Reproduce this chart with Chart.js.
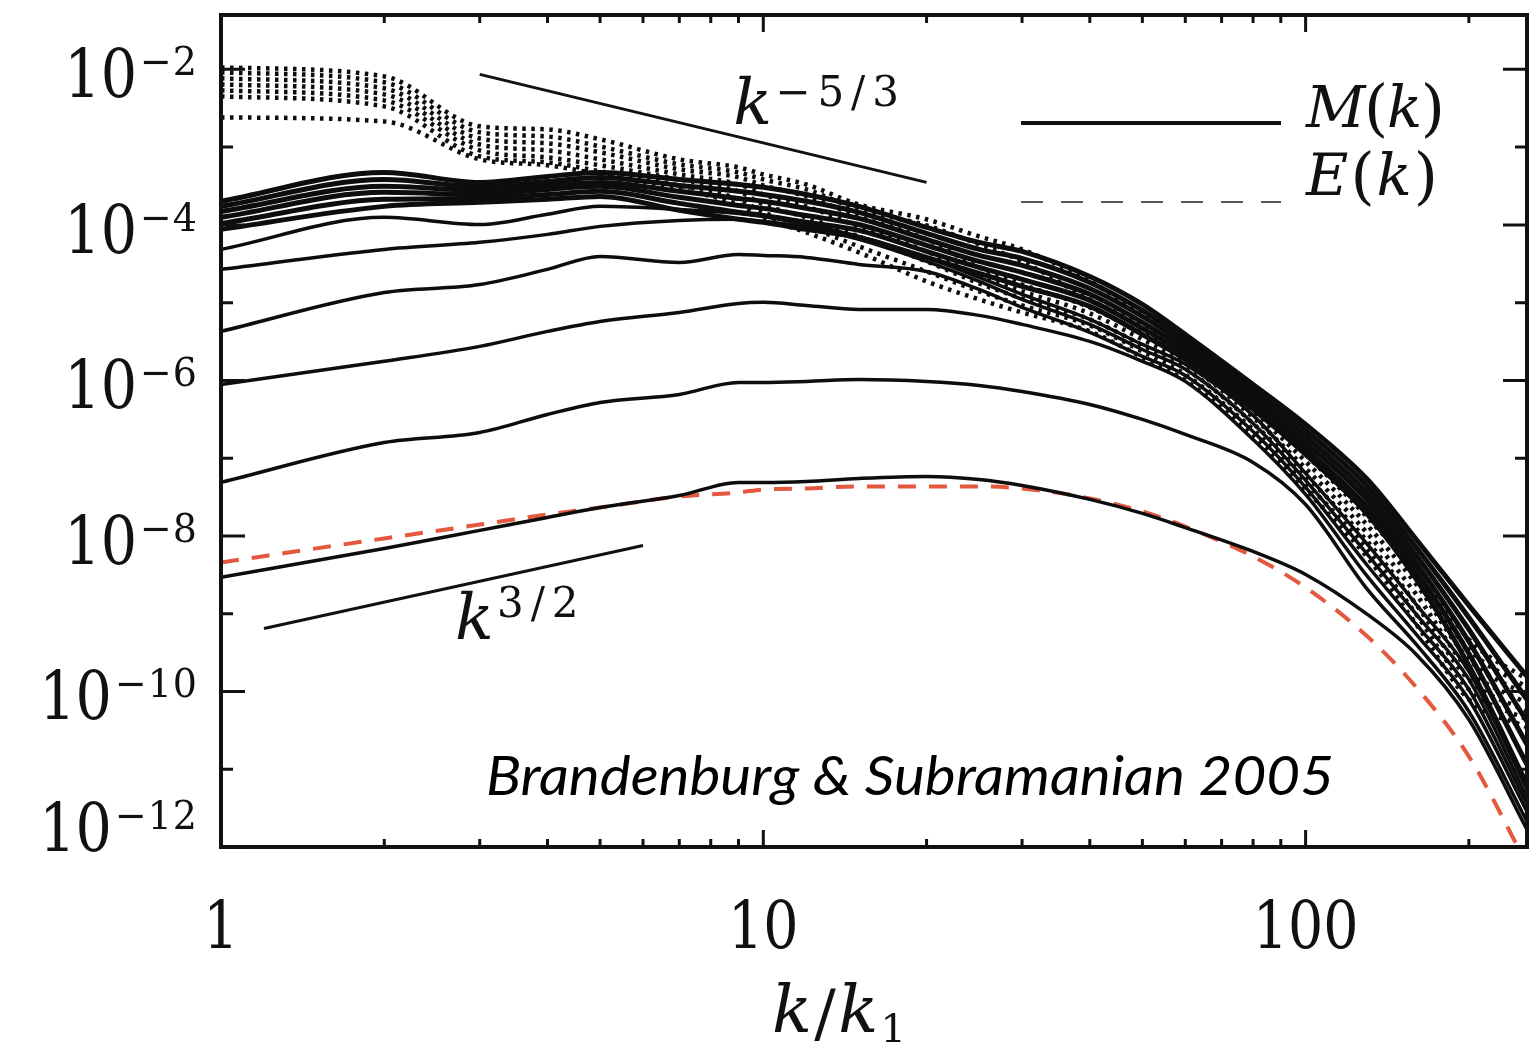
<!DOCTYPE html>
<html>
<head>
<meta charset="utf-8">
<title>Magnetic and kinetic energy spectra</title>
<script src="https://cdn.jsdelivr.net/npm/chart.js@4.4.1/dist/chart.umd.min.js"></script>
<style>
  html, body { margin: 0; padding: 0; background: #ffffff; }
  #wrap { width: 1537px; height: 1045px; }
</style>
</head>
<body>
<div id="wrap"><canvas id="c" width="1537" height="1045"></canvas></div>
<script>
// Wavenumbers k/k1 at which the spectra are sampled
const kGrid = [1, 2, 3, 4, 5, 7, 9, 10, 12, 15, 20, 25, 30, 40, 50, 60, 80, 100, 130, 160, 200, 256];

// Magnetic spectra M(k), earliest (lowest) to latest (saturated)
const magT0  = [2.93e-9, 6.9e-9, 1.18e-8, 1.73e-8, 2.32e-8, 3.31e-8, 4.88e-8, 4.88e-8, 5.02e-8, 5.49e-8, 5.83e-8, 5.33e-8, 4.46e-8, 2.95e-8, 1.95e-8, 1.28e-8, 6.32e-9, 3.2e-9, 9.78e-10, 2.99e-10, 4.36e-11, 1.68e-12];
const magT1  = [4.88e-8, 1.59e-7, 2.14e-7, 3.65e-7, 5.21e-7, 6.61e-7, 9.42e-7, 9.42e-7, 9.71e-7, 1.03e-6, 9.71e-7, 8.62e-7, 7.22e-7, 4.91e-7, 3.15e-7, 2.02e-7, 8.82e-8, 2.54e-8, 2.05e-9, 4.02e-10, 5.53e-11, 2.13e-12];
const magT2  = [8.88e-7, 1.76e-6, 2.74e-6, 4.27e-6, 5.74e-6, 7.49e-6, 9.78e-6, 1.01e-5, 9.22e-6, 8.19e-6, 8.19e-6, 6.86e-6, 5.25e-6, 3.17e-6, 1.76e-6, 9.71e-7, 1.74e-7, 3.42e-8, 3.02e-9, 5.41e-10, 7.89e-11, 2.86e-12];
const magT3  = [4.27e-6, 1.35e-5, 1.71e-5, 2.68e-5, 3.93e-5, 3.29e-5, 4.17e-5, 4.05e-5, 3.82e-5, 3.10e-5, 2.52e-5, 1.48e-5, 8.69e-6, 4.14e-6, 2.04e-6, 1.16e-6, 2.20e-7, 4.20e-8, 4.17e-9, 7.27e-10, 1.06e-10, 3.52e-12];
const magT4  = [2.68e-5, 4.84e-5, 5.96e-5, 7.55e-5, 9.57e-5, 1.14e-4, 1.18e-4, 1.11e-4, 9.29e-5, 6.51e-5, 3.39e-5, 1.88e-5, 1.10e-5, 5.25e-6, 2.50e-6, 1.39e-6, 2.80e-7, 5.18e-8, 5.78e-9, 9.78e-10, 1.43e-10, 4.33e-12];
const magT5  = [4.84e-5, 1.25e-4, 1.01e-4, 1.37e-4, 1.73e-4, 1.58e-4, 1.40e-4, 1.28e-4, 1.01e-4, 7.11e-5, 3.82e-5, 2.11e-5, 1.28e-5, 6.09e-6, 2.90e-6, 1.61e-6, 3.55e-7, 6.36e-8, 7.77e-9, 1.31e-9, 1.81e-10, 5.49e-12];
const magT6  = [2.01e-4, 4.73e-4, 3.52e-4, 4.20e-4, 4.73e-4, 3.84e-4, 3.31e-4, 3.04e-4, 2.46e-4, 1.73e-4, 9.29e-5, 5.96e-5, 4.56e-5, 2.17e-5, 9.50e-6, 3.90e-6, 8.88e-7, 2.72e-7, 5.33e-8, 9.01e-9, 1.28e-9, 1.56e-10];
const magT7  = [1.73e-4, 3.84e-4, 3.13e-4, 3.62e-4, 4.08e-4, 3.22e-4, 2.70e-4, 2.46e-4, 2.01e-4, 1.45e-4, 7.77e-5, 4.84e-5, 3.70e-5, 1.82e-5, 7.95e-6, 3.37e-6, 7.66e-7, 2.27e-7, 4.33e-8, 7.11e-9, 8.95e-10, 7.89e-11];
const magT8  = [1.49e-4, 3.13e-4, 2.78e-4, 3.22e-4, 3.52e-4, 2.70e-4, 2.19e-4, 2.01e-4, 1.63e-4, 1.21e-4, 6.51e-5, 4.05e-5, 3.02e-5, 1.52e-5, 6.66e-6, 2.90e-6, 6.61e-7, 1.90e-7, 3.52e-8, 5.61e-9, 6.27e-10, 4.11e-11];
const magT9  = [1.25e-4, 2.62e-4, 2.46e-4, 2.86e-4, 3.13e-4, 2.26e-4, 1.78e-4, 1.63e-4, 1.32e-4, 1.01e-4, 5.45e-5, 3.39e-5, 2.45e-5, 1.28e-5, 5.57e-6, 2.50e-6, 5.70e-7, 1.59e-7, 2.86e-8, 4.43e-9, 4.40e-10, 2.08e-11];
const magT10 = [1.04e-4, 2.13e-4, 2.19e-4, 2.46e-4, 2.70e-4, 1.89e-4, 1.45e-4, 1.32e-4, 1.08e-4, 8.50e-5, 4.56e-5, 2.84e-5, 1.99e-5, 1.07e-5, 4.66e-6, 2.16e-6, 4.91e-7, 1.33e-7, 2.32e-8, 3.49e-9, 3.08e-10, 1.15e-11];
const magT11 = [8.75e-5, 1.73e-4, 1.95e-4, 2.13e-4, 2.32e-4, 1.54e-4, 1.18e-4, 1.08e-4, 8.75e-5, 6.90e-5, 3.82e-5, 2.38e-5, 1.62e-5, 8.95e-6, 3.90e-6, 1.86e-6, 4.24e-7, 1.12e-7, 1.89e-8, 2.76e-9, 2.16e-10, 6.36e-12];

// Kinetic spectra E(k) at the same times
const kinT0 = [1.06e-2, 8.13e-3, 1.85e-3, 1.69e-3, 1.26e-3, 6.96e-4, 5.49e-4, 4.46e-4, 3.31e-4, 1.83e-4, 1.18e-4, 7.11e-5, 4.84e-5, 1.88e-5, 7.27e-6, 3.37e-6, 5.70e-7, 1.37e-7, 2.19e-8, 4.30e-9, 4.66e-10, 1.43e-10];
const kinT1 = [9.15e-3, 6.81e-3, 1.55e-3, 1.37e-3, 1.02e-3, 6.00e-4, 4.73e-4, 3.84e-4, 2.86e-4, 1.58e-4, 9.85e-5, 5.61e-5, 3.39e-5, 1.10e-5, 5.10e-6, 2.50e-6, 4.77e-7, 1.12e-7, 1.73e-8, 3.20e-9, 3.47e-10, 1.13e-10];
const kinT2 = [7.66e-3, 5.70e-3, 1.29e-3, 1.12e-3, 8.56e-4, 5.18e-4, 4.08e-4, 3.22e-4, 2.32e-4, 1.28e-4, 6.51e-5, 2.84e-5, 1.71e-5, 8.69e-6, 4.02e-6, 2.04e-6, 3.99e-7, 9.08e-8, 1.37e-8, 2.38e-9, 2.58e-10, 8.88e-11];
const kinT3 = [6.41e-3, 4.77e-3, 1.08e-3, 9.08e-4, 6.96e-4, 4.46e-4, 3.31e-4, 2.46e-4, 1.73e-4, 9.57e-5, 4.56e-5, 2.24e-5, 1.40e-5, 7.27e-6, 3.37e-6, 1.70e-6, 3.34e-7, 7.38e-8, 1.08e-8, 1.77e-9, 1.92e-10, 7.01e-11];
const kinT4 = [5.37e-3, 3.99e-3, 9.08e-4, 7.38e-4, 5.83e-4, 3.84e-4, 2.70e-4, 1.83e-4, 1.25e-4, 7.11e-5, 3.39e-5, 1.77e-5, 1.13e-5, 6.09e-6, 2.82e-6, 1.43e-6, 2.80e-7, 6.00e-8, 8.50e-9, 1.31e-9, 1.43e-10, 5.53e-11];
const kinT5 = [4.49e-3, 3.34e-3, 7.60e-4, 6.36e-4, 4.88e-4, 3.22e-4, 2.13e-4, 1.45e-4, 9.57e-5, 5.29e-5, 2.52e-5, 1.40e-5, 9.22e-6, 5.10e-6, 2.36e-6, 1.19e-6, 2.34e-7, 4.88e-8, 6.70e-9, 9.78e-10, 1.06e-10, 4.36e-11];
const kinT6 = [2.41e-3, 2.14e-3, 6.96e-4, 5.83e-4, 4.46e-4, 2.86e-4, 1.83e-4, 1.25e-4, 8.01e-5, 4.43e-5, 1.88e-5, 1.10e-5, 7.49e-6, 4.27e-6, 1.98e-6, 1.00e-6, 1.96e-7, 3.96e-8, 5.29e-9, 7.27e-10, 7.89e-11, 3.44e-11];

// Model spectrum overlaid on the earliest magnetic spectrum
const modelSpectrum = [4.56e-9, 9.29e-9, 1.40e-8, 1.89e-8, 2.32e-8, 3.22e-8, 3.62e-8, 3.96e-8, 4.08e-8, 4.33e-8, 4.33e-8, 4.33e-8, 4.08e-8, 3.04e-8, 2.07e-8, 1.32e-8, 5.45e-9, 2.17e-9, 5.1e-10, 1.13e-10, 1.46e-11, 5.96e-13];

// Power-law guide segments
const kolmogorovK = [3, 20];
const kolmogorovV = [8.62e-3, 3.52e-4];
const kazantsevK = [1.2, 6];
const kazantsevV = [6.46e-10, 7.55e-9];

// Axis labelling
const yTickExponents = [-2, -4, -6, -8, -10, -12];
const xTickValues = [1, 10, 100];
const xTickLabels = ['1', '10', '100'];

const magneticSeries = [magT0, magT1, magT2, magT3, magT4, magT5, magT6, magT7, magT8, magT9, magT10, magT11];
const kineticSeries = [kinT0, kinT1, kinT2, kinT3, kinT4, kinT5, kinT6];

const toPoints = (ks, vals) => ks.map((k, i) => ({ x: k, y: vals[i] }));

const SERIF = "'DejaVu Serif', 'Liberation Serif', serif";

// draw a string glyph by glyph with extra spacing and horizontal squeeze
function glyphRun(c, str, font, x, y, spacing, sx) {
  c.save();
  c.font = font;
  c.translate(x, y);
  c.scale(sx, 1);
  let cx = 0;
  for (const ch of str) {
    c.fillText(ch, cx, 0);
    cx += c.measureText(ch).width + spacing;
  }
  c.restore();
}

function runWidth(c, str, font, spacing, sx) {
  c.save();
  c.font = font;
  const chars = [...str];
  let w = 0;
  chars.forEach((ch, i) => { w += c.measureText(ch).width + (i < chars.length - 1 ? spacing : 0); });
  c.restore();
  return w * sx;
}

// lay out mixed-font pieces so that they span exactly [x0, x1]
function spreadPieces(c, pieces, x0, x1, y) {
  const widths = pieces.map(p => { c.font = p.font; return c.measureText(p.t).width; });
  const total = widths.reduce((s, w) => s + w, 0);
  const gap = pieces.length > 1 ? (x1 - x0 - total) / (pieces.length - 1) : 0;
  let x = x0;
  pieces.forEach((p, i) => {
    c.font = p.font;
    c.fillText(p.t, x, y + (p.dy || 0));
    x += widths[i] + gap;
  });
}

const datasets = [];
kineticSeries.forEach((vals, i) => datasets.push({
  label: 'E' + i,
  data: toPoints(kGrid, vals),
  borderColor: '#0d0d0d',
  borderWidth: 4.5,
  borderDash: [3.5, 5.5],
  borderCapStyle: 'butt',
  cubicInterpolationMode: 'monotone',
  order: 0
}));
magneticSeries.forEach((vals, i) => datasets.push({
  label: 'M' + i,
  data: toPoints(kGrid, vals),
  borderColor: '#0d0d0d',
  borderWidth: i >= 6 ? 5 : 3.5,
  cubicInterpolationMode: 'monotone',
  order: 0
}));
datasets.push({
  label: 'k^-5/3',
  data: toPoints(kolmogorovK, kolmogorovV),
  borderColor: '#111111',
  borderWidth: 3,
  order: 0
});
datasets.push({
  label: 'k^3/2',
  data: toPoints(kazantsevK, kazantsevV),
  borderColor: '#111111',
  borderWidth: 3,
  order: 0
});
datasets.push({
  label: 'model',
  data: toPoints(kGrid, modelSpectrum),
  borderColor: 'rgb(228, 88, 62)',
  borderWidth: 4,
  borderDash: [18, 13],
  borderCapStyle: 'butt',
  cubicInterpolationMode: 'monotone',
  order: 1
});

const framePlugin = {
  id: 'frame',
  afterDraw(chart) {
    const c = chart.ctx;
    const a = chart.chartArea;
    const xs = chart.scales.x;
    const ys = chart.scales.y;
    c.save();
    c.strokeStyle = '#111111';
    c.fillStyle = '#111111';
    c.textBaseline = 'alphabetic';
    c.textAlign = 'left';

    // plot frame
    c.lineWidth = 4;
    c.strokeRect(a.left, a.top, a.right - a.left, a.bottom - a.top);

    // inward ticks on the y axis (left and right)
    c.lineWidth = 3;
    for (let e = -12; e <= -2; e++) {
      const py = ys.getPixelForValue(Math.pow(10, e));
      const len = e % 2 === 0 ? 24 : 12;
      c.beginPath();
      c.moveTo(a.left, py); c.lineTo(a.left + len, py);
      c.moveTo(a.right, py); c.lineTo(a.right - len, py);
      c.stroke();
    }
    // inward ticks on the x axis (bottom and top)
    for (const d of [1, 10, 100]) {
      for (let m = 1; m <= 9; m++) {
        const v = m * d;
        if (v === 1 || v > 256) continue;
        const px = xs.getPixelForValue(v);
        const len = m === 1 ? 17 : 8;
        c.beginPath();
        c.moveTo(px, a.bottom); c.lineTo(px, a.bottom - len);
        c.moveTo(px, a.top); c.lineTo(px, a.top + len);
        c.stroke();
      }
    }

    // y tick labels 10^n
    const baseFont = `68px ${SERIF}`;
    const supFont = `40px ${SERIF}`;
    yTickExponents.forEach(e => {
      const py = ys.getPixelForValue(Math.pow(10, e));
      const base = Math.min(py + 28, a.bottom + 4);
      const expText = '\u2212' + Math.abs(e);
      const wB = runWidth(c, '10', baseFont, 0, 0.84);
      const wE = runWidth(c, expText, supFont, 1, 0.95);
      const right = a.left - 24;
      glyphRun(c, expText, supFont, right - wE, base - 22, 1, 0.95);
      glyphRun(c, '10', baseFont, right - wE - 3 - wB, base, 0, 0.84);
    });

    // x tick labels
    const xFont = `66px ${SERIF}`;
    xTickValues.forEach((v, i) => {
      const px = xs.getPixelForValue(v);
      const w = runWidth(c, xTickLabels[i], xFont, 0, 0.84);
      glyphRun(c, xTickLabels[i], xFont, px - w / 2, a.bottom + 101, 0, 0.84);
    });

    // x axis title k/k1
    spreadPieces(c, [
      { t: 'k', font: `italic 66px ${SERIF}` },
      { t: '/', font: `64px ${SERIF}`, dy: 3 },
      { t: 'k', font: `italic 66px ${SERIF}` },
      { t: '1', font: `40px ${SERIF}`, dy: 10 }
    ], 772, 906, 1032);

    // slope labels
    const itK = `italic 64px ${SERIF}`;
    const s1x = xs.getPixelForValue(8.8), s1y = ys.getPixelForValue(1.96e-3);
    glyphRun(c, 'k', itK, s1x, s1y, 0, 1);
    glyphRun(c, '\u22125/3', `42px ${SERIF}`, s1x + 42, s1y - 18, 7, 1);
    const s2x = xs.getPixelForValue(2.7), s2y = ys.getPixelForValue(4.66e-10);
    glyphRun(c, 'k', itK, s2x, s2y, 0, 1);
    glyphRun(c, '3/2', `42px ${SERIF}`, s2x + 42, s2y - 22, 7, 1);

    // legend
    c.lineWidth = 4;
    c.beginPath(); c.moveTo(1021, 123); c.lineTo(1281, 123); c.stroke();
    c.save();
    c.strokeStyle = '#555555';
    c.lineWidth = 2;
    c.setLineDash([22, 18]);
    c.beginPath(); c.moveTo(1021, 202); c.lineTo(1281, 202); c.stroke();
    c.restore();
    const itL = `italic 58px ${SERIF}`;
    const parL = `62px ${SERIF}`;
    spreadPieces(c, [
      { t: 'M', font: itL }, { t: '(', font: parL, dy: 2 }, { t: 'k', font: itL }, { t: ')', font: parL, dy: 2 }
    ], 1306, 1445, 127);
    spreadPieces(c, [
      { t: 'E', font: itL }, { t: '(', font: parL, dy: 2 }, { t: 'k', font: itL }, { t: ')', font: parL, dy: 2 }
    ], 1306, 1438, 195);

    // credit line
    c.fillStyle = '#000000';
    c.font = "italic 54px Lato, 'Open Sans', sans-serif";
    const credit = 'Brandenburg & Subramanian 2005';
    const cw = c.measureText(credit).width;
    c.save();
    c.translate(486, 795);
    c.scale(848 / cw, 1);
    c.fillText(credit, 0, 0);
    c.restore();

    c.restore();
  }
};

new Chart(document.getElementById('c').getContext('2d'), {
  type: 'line',
  data: { datasets },
  options: {
    responsive: false,
    devicePixelRatio: 1,
    animation: false,
    events: [],
    layout: { padding: { left: 221, right: 10, top: 15, bottom: 198 } },
    elements: {
      point: { radius: 0, hoverRadius: 0 },
      line: { tension: 0, fill: false, borderJoinStyle: 'round' }
    },
    plugins: { legend: { display: false }, tooltip: { enabled: false }, title: { display: false } },
    scales: {
      x: { type: 'logarithmic', min: 1, max: 256, display: false },
      y: { type: 'logarithmic', min: 1e-12, max: 0.05, display: false }
    }
  },
  plugins: [framePlugin]
});
</script>
</body>
</html>
